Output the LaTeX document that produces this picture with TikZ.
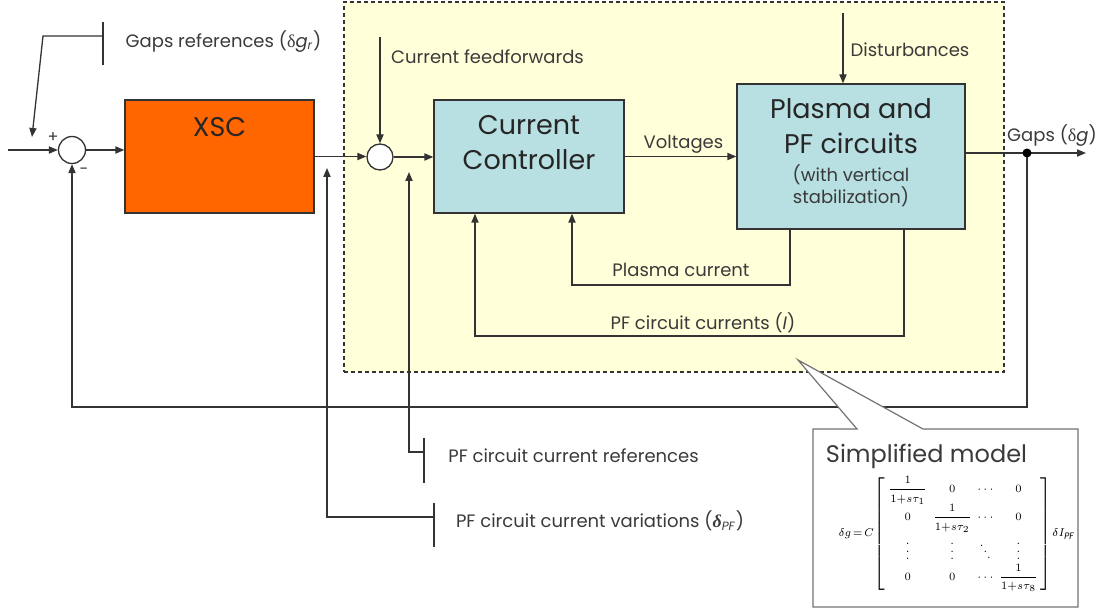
\documentclass[tikz,border=0pt]{standalone}
\usepackage{graphicx}
\usepackage{fontspec}
\setmainfont{Poppins}
\newfontfamily\symf{Liberation Serif}
\usetikzlibrary{arrows.meta,calc}
\definecolor{xscor}{HTML}{FF6600}
\definecolor{ccblue}{HTML}{B8DFE1}
\definecolor{ylw}{HTML}{FFFFD9}
\definecolor{ln}{HTML}{333333}
\definecolor{txt}{HTML}{3A3A3A}
\begin{document}
\begin{tikzpicture}[x=0.5pt,y=-0.5pt,
  wire/.style={draw=ln, line width=0.65pt},
  arr/.style={wire,-{Triangle[length=4.5pt,width=3.6pt]}},
  lbl/.style={font=\fontsize{9}{11}\selectfont, text=txt, inner sep=0pt, anchor=base},
  blk/.style={draw=black!80, line width=0.65pt, inner sep=0pt},
  big/.style={font=\fontsize{13.5}{17.5}\selectfont, text=black!85, align=center, inner sep=0pt},
  sumj/.style={circle, draw=ln, line width=0.65pt, fill=white, minimum size=13.5pt, inner sep=0pt},
  bar/.style={draw=ln, line width=0.65pt}
]
\useasboundingbox (0,0) rectangle (1100,609);

% control zone
\node[draw=ln, dash pattern=on 2pt off 1.5pt, fill=ylw, line width=0.6pt,
      minimum width=330pt, minimum height=185pt, inner sep=0pt] (zone) at (674,187) {};

% blocks
\node[blk, fill=xscor, minimum width=94.5pt, minimum height=56.5pt] (xsc) at (219.5,156.5) {};
\node[big] (xsct) at (219.5,127) {XSC};
\node[blk, fill=ccblue, minimum width=95pt, minimum height=56.5pt] (cc) at (529,156.5) {};
\node[big] (cct) at (529,143) {Current\\Controller};
\node[blk, fill=ccblue, minimum width=114pt, minimum height=72.5pt] (pl) at (851,156.5) {};
\node[big] (plt) at (851,126) {Plasma and\\PF circuits};
\node[font=\fontsize{9}{11}\selectfont, align=center, text=txt, inner sep=0pt] (pls) at (851,186) {(with vertical\\stabilization)};

% summing junctions
\node[sumj] (s1) at (72,150) {};
\node[sumj, minimum size=13pt] (s2) at (380,157) {};
\node[font=\fontsize{8}{8}\selectfont, text=txt, inner sep=0pt] (plus) at (53,138) {+};
\node[font=\fontsize{8}{8}\selectfont, text=txt, inner sep=0pt] (minus) at (84,171) {-};

% main path
\coordinate (in) at (8,150);
\draw[arr] (in) -- (s1.west);
\draw[arr] (s1.east) -- (s1.east -| xsc.west);
\draw[arr] (xsc.east) -- (xsc.east -| s2.west);
\draw[arr] (s2.east) -- (s2.east -| cc.west);
\draw[arr] (cc.east) -- (pl.west);
\node[lbl] (vl) at (683.5,149) {Voltages};

% gaps references
\coordinate (grb1) at (103,22);
\coordinate (grb2) at (103,65);
\coordinate (grm) at (103,36);
\coordinate (grk) at (43,36);
\coordinate (grt) at (32,137);
\draw[bar] (grb1) -- (grb2);
\draw[arr] (grm) -- (grk) -- (grt);
\node[lbl] (grl) at (223.5,48) {Gaps references ({\symf δ}{\itshape g}\textsubscript{\itshape r})};

% output and feedback
\coordinate (dot) at (1027,153);
\coordinate (out) at (1086,153);
\coordinate (fbc) at (1027,407);
\draw[arr] (pl.east |- dot) -- (out);
\draw[arr] (dot) -- (fbc) -| (s1.south);
\node[circle, fill=black, minimum size=4.5pt, inner sep=0pt] (dotn) at (dot) {};
\node[lbl] (gl) at (1052,142) {Gaps ({\symf δ}{\itshape g})};

% current feedforwards
\coordinate (ff) at (380,37);
\draw[arr] (ff) -- (s2.north);
\node[lbl] (ffl) at (487.5,64) {Current feedforwards};

% disturbances
\coordinate (dist) at (843,13);
\draw[arr] (dist) -- (dist |- pl.north);
\node[lbl] (dl) at (910,57) {Disturbances};

% plasma current
\coordinate (pc1) at (790,285);
\coordinate (pc2) at (572,285);
\draw[arr] (pl.south -| pc1) -- (pc1) -- (pc2) -- (cc.south -| pc2);
\node[lbl] (pcl) at (681,277) {Plasma current};

% PF circuit currents
\coordinate (pf1) at (904,336);
\coordinate (pf2) at (475,336);
\draw[arr] (pl.south -| pf1) -- (pf1) -- (pf2) -- (cc.south -| pf2);
\node[lbl] (pfl) at (703,330) {PF circuit currents ({\itshape I})};

% PF circuit current references
\coordinate (rb1) at (424,438);
\coordinate (rb2) at (424,483);
\coordinate (rm) at (424,452);
\coordinate (rk) at (409,452);
\coordinate (rt) at (409,172);
\draw[bar] (rb1) -- (rb2);
\draw[arr] (rm) -- (rk) -- (rt);
\node[lbl] (rl) at (573.5,463) {PF circuit current references};

% PF circuit current variations
\coordinate (vb1) at (434,503);
\coordinate (vb2) at (434,547);
\coordinate (vm) at (434,517);
\coordinate (vk) at (327,517);
\coordinate (vt) at (327,168);
\draw[bar] (vb1) -- (vb2);
\draw[arr] (vm) -- (vk) -- (vt);
\node[lbl] (varl) at (600,528) {PF circuit current variations ({\symf\itshape\bfseries δ}\textsubscript{\itshape PF})};

% simplified model callout
\draw[draw=black!55, fill=white, line width=0.6pt] (813,429) -- (857,429) -- (798,360) -- (923,429) -- (1078,429) -- (1078,607) -- (813,607) -- cycle;
\node[font=\fontsize{12}{14}\selectfont, anchor=base, text=txt, inner sep=0pt] (sml) at (926.5,463) {Simplified model};
\node[font=\fontsize{6}{7}\selectfont, inner sep=0pt] (eq) at (956.5,534)
 {\resizebox*{118pt}{58pt}{\setlength{\arraycolsep}{1.6pt}\renewcommand{\arraystretch}{1.0}$\delta g\!=\!C\!\left[\begin{array}{cccc}
 \displaystyle\frac{1}{1{+}s\tau_1} & 0 & \cdots & 0\\[1pt]
 0 & \displaystyle\frac{1}{1{+}s\tau_2} & \cdots & 0\\
 \vdots & \vdots & \ddots & \vdots\\
 0 & 0 & \cdots & \displaystyle\frac{1}{1{+}s\tau_8}
 \end{array}\right]\!\delta I_{\mathit{PF}}$}};
\end{tikzpicture}
\end{document}
